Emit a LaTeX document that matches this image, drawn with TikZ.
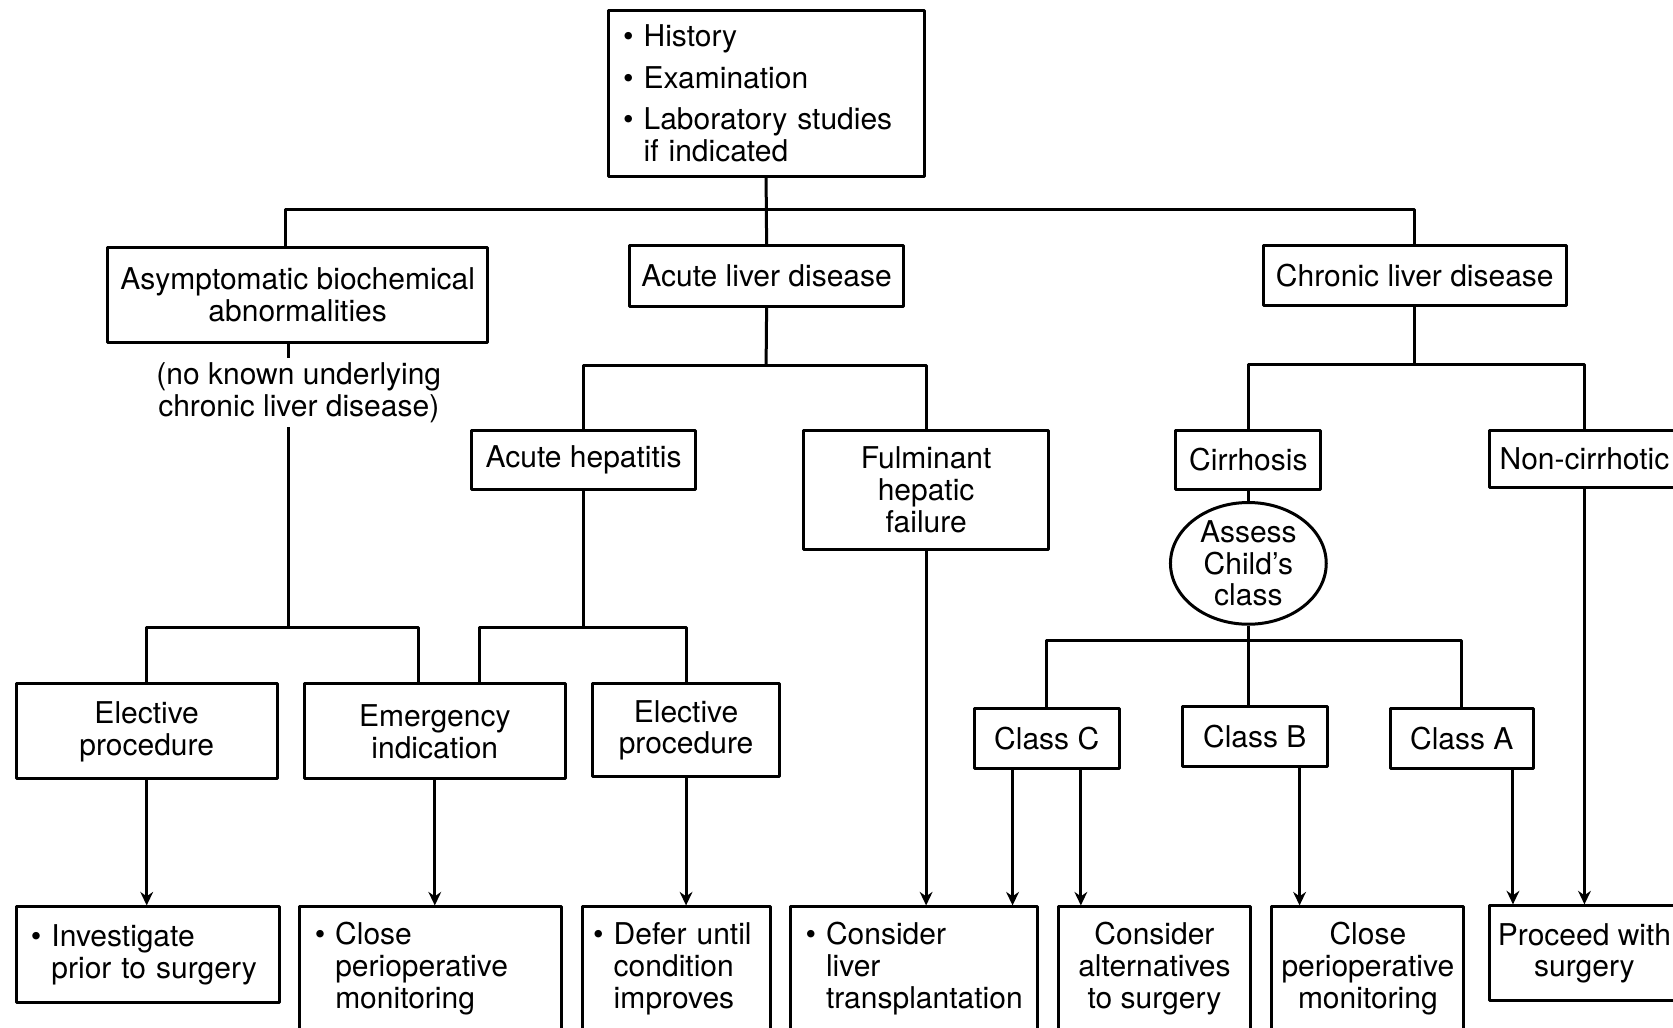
\documentclass[tikz,border=0pt]{standalone}
\usepackage{fontspec}
\setmainfont{TeX Gyre Heros}
\usetikzlibrary{shapes.geometric,arrows.meta}
\tikzset{
  box/.style={draw, line width=.8pt, align=center, inner sep=1pt},
  bulbox/.style={box, align=left, inner xsep=1.4mm, text width=#1},
  link/.style={line width=.8pt},
}
\newcommand{\bul}{\textbullet~}
\newcommand{\ind}{\phantom{\textbullet~}}

\begin{document}
\begin{tikzpicture}[font=\fontsize{8}{8.5}\selectfont, line join=round, >={Stealth[length=3.6pt,width=3.4pt]}]
			\def\xmax{15.68} \def\ymin{-9.63}
			\useasboundingbox (0,0) rectangle (\xmax,\ymin);
			\clip (0,0) rectangle (\xmax,\ymin);
			\fill[white] (0,0) rectangle (\xmax,\ymin);
			% first levels
			\node[bulbox=2.68cm, minimum height=1.55cm] (hist) at (7.18,-.875) {\bul History\\[2.5pt] \bul Examination\\[2.5pt] \bul Laboratory studies\\ \ind if indicated};
			\node[box, minimum width=3.56cm, minimum height=.89cm] (asym) at (2.79,-2.765) {Asymptomatic biochemical\\abnormalities};
			\node[box, minimum width=2.57cm, minimum height=.57cm] (acute) at (7.185,-2.585) {Acute liver disease};
			\node[box, minimum width=2.84cm, minimum height=.56cm] (chronic) at (13.26,-2.58) {Chronic liver disease};
			\node[inner sep=1pt, align=center] (note) at (2.80,-3.68) {(no known underlying\\chronic liver disease)};
			\node[box, minimum width=2.10cm, minimum height=.56cm] (hep) at (5.47,-4.31) {Acute hepatitis};
			\node[box, minimum width=2.30cm, minimum height=1.12cm] (fulm) at (8.68,-4.59) {Fulminant\\hepatic\\failure};
			\node[box, minimum width=1.36cm, minimum height=.56cm] (cirr) at (11.70,-4.31) {Cirrhosis};
			\node[box, minimum width=1.78cm, minimum height=.54cm] (noncirr) at (14.85,-4.30) {Non-cirrhotic};
			\node[ellipse, draw, line width=.8pt, align=center, inner sep=0pt, minimum width=1.46cm, minimum height=1.08cm] (child) at (11.70,-5.28) {Assess\\Child's\\class};
			% procedures and classes
			\node[box, minimum width=2.45cm, minimum height=.89cm] (elec1) at (1.375,-6.855) {Elective\\procedure};
			\node[box, minimum width=2.45cm, minimum height=.89cm] (emerg) at (4.075,-6.855) {Emergency\\indication};
			\node[box, minimum width=1.76cm, minimum height=.87cm] (elec2) at (6.43,-6.845) {Elective\\procedure};
			\node[box, minimum width=1.36cm, minimum height=.56cm] (classC) at (9.81,-6.92) {Class C};
			\node[box, minimum width=1.36cm, minimum height=.56cm] (classB) at (11.76,-6.90) {Class B};
			\node[box, minimum width=1.34cm, minimum height=.56cm] (classA) at (13.70,-6.92) {Class A};
			% outcomes
			\node[bulbox=2.19cm, minimum height=.90cm] (invest) at (1.385,-8.95) {\bul Investigate\\\ind prior to surgery};
			\node[bulbox=2.17cm, minimum height=1.16cm] (closeA) at (4.035,-9.08) {\bul Close\\\ind perioperative\\\ind monitoring};
			\node[bulbox=1.56cm, inner xsep=1mm, minimum height=1.16cm] (defer) at (6.34,-9.08) {\mbox{\bul Defer until}\\\ind condition\\\ind improves};
			\node[bulbox=2.03cm, minimum height=1.16cm] (transpl) at (8.565,-9.08) {\bul Consider\\\ind liver\\\ind transplantation};
			\node[box, minimum width=1.80cm, minimum height=1.16cm] (altern) at (10.82,-9.08) {Consider\\alternatives\\to surgery};
			\node[box, minimum width=1.80cm, minimum height=1.16cm] (closeB) at (12.82,-9.08) {Close\\perioperative\\monitoring};
			\node[box, minimum width=1.78cm, minimum height=.89cm] (proceed) at (14.85,-8.935) {Proceed with\\surgery};
			% tree lines
			\coordinate (b0) at (7.18,-1.96);
			\draw[link] (hist.south) -- (acute.north);
			\draw[link] ([xshift=-1.1mm]asym.north) |- (b0) -| (chronic.north);
			\coordinate (b1) at (7.18,-3.43);
			\draw[link] (acute.south) -- (b1);
			\draw[link] (hep.north) |- (b1) -| (fulm.north);
			\coordinate (b2) at (13.26,-3.42);
			\draw[link] (chronic.south) -- (b2);
			\draw[link] (cirr.north) |- (b2) -| (noncirr.north);
			\coordinate (b3) at (2.70,-5.88);
			\draw[link] (asym.south -| b3) -- (note.north -| b3);
			\draw[link] (note.south -| b3) -- (b3);
			\draw[link] (elec1.north) |- (b3) -| ([xshift=-1.5mm]emerg.north);
			\coordinate (b4) at (5.47,-5.88);
			\draw[link] (hep.south) -- (b4);
			\draw[link] ([xshift=4.2mm]emerg.north) |- (b4) -| (elec2.north);
			\draw[link] (cirr.south) -- (child.north);
			\coordinate (b5) at (11.70,-6.00);
			\draw[link] (child.south) -- (b5);
			\draw[link] (classC.north) |- (b5) -| (classA.north);
			\draw[link] (b5) -- (b5 |- classB.north);
			% arrows
			\foreach \a/\b in {elec1/invest, emerg/closeA, elec2/defer, fulm/transpl, noncirr/proceed}
				\draw[link,->] (\a.south) -- (\a.south |- \b.north);
			\foreach \a/\s/\b in {classC/-3.2mm/transpl, classC/3.2mm/altern, classB/4.2mm/closeB, classA/4.8mm/proceed}
				\draw[link,->] ([xshift=\s]\a.south) -- ([xshift=\s]\a.south |- \b.north);
		\end{tikzpicture}
\end{document}
